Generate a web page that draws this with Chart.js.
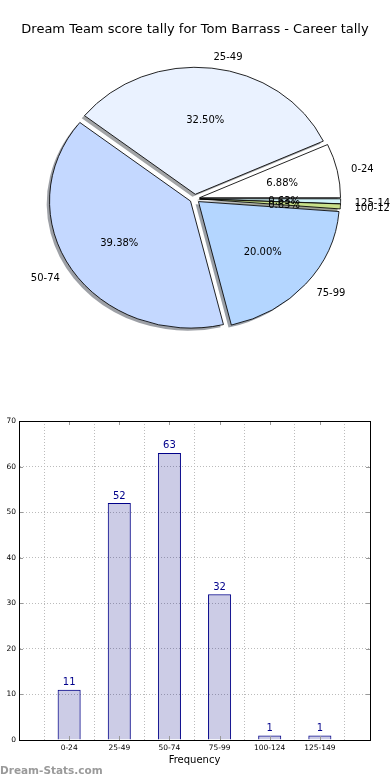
<!DOCTYPE html>
<html>
<head>
<meta charset="utf-8">
<title>Dream Team score tally - Tom Barrass</title>
<script src="https://cdn.jsdelivr.net/npm/chart.js@4.4.0/dist/chart.umd.min.js"></script>
<style>
  body { margin: 0; background: #fff; }
  #wrap { position: relative; width: 390px; height: 780px; overflow: hidden; }
  #pieChart { position: absolute; left: 0; top: 0; }
  #barChart { position: absolute; left: 0; top: 400px; }
</style>
</head>
<body>
<div id="wrap">
  <canvas id="pieChart" width="390" height="400"></canvas>
  <canvas id="barChart" width="390" height="380"></canvas>
</div>
<script>
/* ---------- DATA ---------- */
const titleText  = "Dream Team score tally for Tom Barrass - Career tally";
const categories = ["0-24", "25-49", "50-74", "75-99", "100-124", "125-149"];
const counts     = [11, 52, 63, 32, 1, 1];
const explode    = [0.035, 0.035, 0.035, 0.035, 0.035, 0.035];   // fraction of radius

/* ---------- STYLE ---------- */
const sliceColors = ["#ffffff", "#eaf2ff", "#c4d8ff", "#b4d6ff", "#c8e08a", "#d0f4fa"];
const R  = 141;          // horizontal radius of the pie
const SY = 127 / 141;    // the original pie is squashed into an ellipse
const FONT = "'DejaVu Sans', 'Liberation Sans', sans-serif";

Chart.defaults.font.family = FONT;
Chart.defaults.color = "#000";

const total = counts.reduce((a, b) => a + b, 0);
const rev = arr => arr.slice().reverse();   // matplotlib runs counter-clockwise

// mid angle + explode shift of one wedge (unsquashed coords)
function wedge(a, e) {
  const mid = (a.startAngle + a.endAngle) / 2;
  return { mid, ox: Math.cos(mid) * e * R, oy: Math.sin(mid) * e * R };
}

function shadowOf(hex) {
  const n = parseInt(hex.slice(1), 16);
  const r = (n >> 16) & 255, g = (n >> 8) & 255, b = n & 255;
  return `rgba(${Math.round(r * 0.3)},${Math.round(g * 0.3)},${Math.round(b * 0.3)},0.5)`;
}

/* ---------- PIE PLUGIN: explode, shadow, ellipse, labels ---------- */
const pieExtras = {
  id: "pieExtras",
  beforeDatasetsDraw(chart) {
    const ctx  = chart.ctx;
    const ds   = chart.data.datasets[0];
    const arcs = chart.getDatasetMeta(0).data;
    const cx = arcs[0].x, cy = arcs[0].y;

    // pull every wedge out along its middle (plain shift, like matplotlib)
    arcs.forEach((a, i) => {
      if (a._exploded) return;
      const orig = a.draw;
      a.draw = function (c) {
        const g = wedge(this, ds.explode[i]);
        c.save();
        c.translate(g.ox, g.oy);
        orig.call(this, c);
        c.restore();
      };
      a._exploded = true;
    });

    // shadows first
    ctx.save();
    ctx.translate(cx - 0.02 * R, cy + 0.02 * R * SY);
    ctx.scale(1, SY);
    ctx.translate(-cx, -cy);
    arcs.forEach((a, i) => {
      const g = wedge(a, ds.explode[i]);
      ctx.beginPath();
      ctx.moveTo(a.x + g.ox, a.y + g.oy);
      ctx.arc(a.x + g.ox, a.y + g.oy, a.outerRadius, a.startAngle, a.endAngle);
      ctx.closePath();
      ctx.fillStyle = shadowOf(a.options.backgroundColor);
      ctx.fill();
    });
    ctx.restore();

    // squash the real wedges
    ctx.save();
    ctx.translate(cx, cy);
    ctx.scale(1, SY);
    ctx.translate(-cx, -cy);
  },
  afterDatasetsDraw(chart) {
    const ctx = chart.ctx;
    ctx.restore();

    const ds     = chart.data.datasets[0];
    const arcs   = chart.getDatasetMeta(0).data;
    const labels = chart.data.labels;
    ctx.save();
    ctx.font = `10px ${FONT}`;
    ctx.fillStyle = "#000";
    ctx.textBaseline = "middle";
    arcs.forEach((a, i) => {
      const e   = ds.explode[i];
      const mid = (a.startAngle + a.endAngle) / 2;
      // +1.5: matplotlib centres the text box incl. descent
      const at  = k => [a.x + Math.cos(mid) * R * (k + e),
                        a.y + Math.sin(mid) * R * (k + e) * SY + 1.5];
      const [lx, ly] = at(1.1);
      ctx.textAlign = Math.cos(mid) > 0 ? "left" : "right";
      ctx.fillText(labels[i], lx, ly);
      const [px, py] = at(0.6);
      ctx.textAlign = "center";
      ctx.fillText((ds.data[i] / total * 100).toFixed(2) + "%", px, py);
    });
    ctx.restore();
  },
  afterDraw(chart) {
    const ctx = chart.ctx;
    ctx.save();
    ctx.font = `13px ${FONT}`;
    ctx.fillStyle = "#000";
    ctx.textAlign = "center";
    ctx.textBaseline = "middle";
    ctx.fillText(titleText, 195, 30);
    ctx.restore();
  }
};

new Chart(document.getElementById("pieChart"), {
  type: "pie",
  data: {
    labels: rev(categories),
    datasets: [{
      data: rev(counts),
      explode: rev(explode),
      backgroundColor: rev(sliceColors),
      borderColor: "#000",
      borderWidth: 0.9,
      clip: false
    }]
  },
  options: {
    responsive: false,
    animation: false,
    rotation: 90,
    radius: R,
    layout: { padding: { left: 0, right: 0.6, top: 0, bottom: 2.6 } },
    plugins: { legend: { display: false }, tooltip: { enabled: false } }
  },
  plugins: [pieExtras]
});

/* ---------- BAR PLUGIN: value labels, frame, inner ticks, watermark ---------- */
const barExtras = {
  id: "barExtras",
  afterDatasetsDraw(chart) {
    const ctx = chart.ctx;
    const bars = chart.getDatasetMeta(0).data;
    ctx.save();
    ctx.font = `10px ${FONT}`;
    ctx.fillStyle = "#00008b";
    ctx.textAlign = "center";
    ctx.textBaseline = "middle";
    bars.forEach((b, i) => ctx.fillText(counts[i], b.x, b.y - 7));
    ctx.restore();
  },
  afterDraw(chart) {
    const ctx = chart.ctx;
    const { left, right, top, bottom } = chart.chartArea;
    const xs = chart.scales.x, ys = chart.scales.y;
    ctx.save();
    // little inward ticks like matplotlib
    ctx.strokeStyle = "#999";
    ctx.lineWidth = 1;
    ctx.beginPath();
    xs.ticks.forEach(t => {
      const x = Math.round(xs.getPixelForValue(t.value)) + 0.5;
      ctx.moveTo(x, top); ctx.lineTo(x, top + 4);
      ctx.moveTo(x, bottom); ctx.lineTo(x, bottom - 4);
    });
    ys.ticks.forEach(t => {
      const y = Math.round(ys.getPixelForValue(t.value)) + 0.5;
      ctx.moveTo(left, y); ctx.lineTo(left + 4, y);
      ctx.moveTo(right, y); ctx.lineTo(right - 4, y);
    });
    ctx.stroke();
    // frame
    ctx.strokeStyle = "#000";
    ctx.strokeRect(Math.round(left) + 0.5, Math.round(top) + 0.5,
                   Math.round(right - left), Math.round(bottom - top));
    // watermark
    ctx.font = `bold 10.5px ${FONT}`;
    ctx.fillStyle = "#9a9a9a";
    ctx.textAlign = "left";
    ctx.textBaseline = "middle";
    ctx.fillText("Dream-Stats.com", 0, 371);
    ctx.restore();
  }
};

new Chart(document.getElementById("barChart"), {
  type: "bar",
  data: {
    datasets: [{
      data: counts.map((v, i) => ({ x: i, y: v })),
      backgroundColor: "rgba(0,0,128,0.2)",
      borderColor: "#000088",
      borderWidth: 1,
      barPercentage: 0.46,
      categoryPercentage: 1
    }]
  },
  options: {
    responsive: false,
    animation: false,
    layout: { padding: { left: 0, right: 20, top: 21, bottom: 0 } },
    plugins: { legend: { display: false }, tooltip: { enabled: false } },
    scales: {
      x: {
        type: "linear",
        min: -1, max: 6,
        offset: false,
        afterFit: s => { s.height = 40; },
        grid: { color: "#bbb", drawTicks: false },
        border: { color: "#000", dash: [1, 2] },
        ticks: {
          stepSize: 1, autoSkip: false, maxRotation: 0, padding: 4,
          font: { size: 7.5 },
          callback: v => categories[v] ?? ""
        },
        title: { display: true, text: "Frequency", font: { size: 10 }, padding: { top: 0, bottom: 14 } }
      },
      y: {
        min: 0, max: 70,
        afterFit: s => { s.width = 19; },
        grid: { color: "#bbb", drawTicks: false },
        border: { color: "#000", dash: [1, 2] },
        ticks: { stepSize: 10, padding: 3, font: { size: 7.5 } }
      }
    }
  },
  plugins: [barExtras]
});
</script>
</body>
</html>
